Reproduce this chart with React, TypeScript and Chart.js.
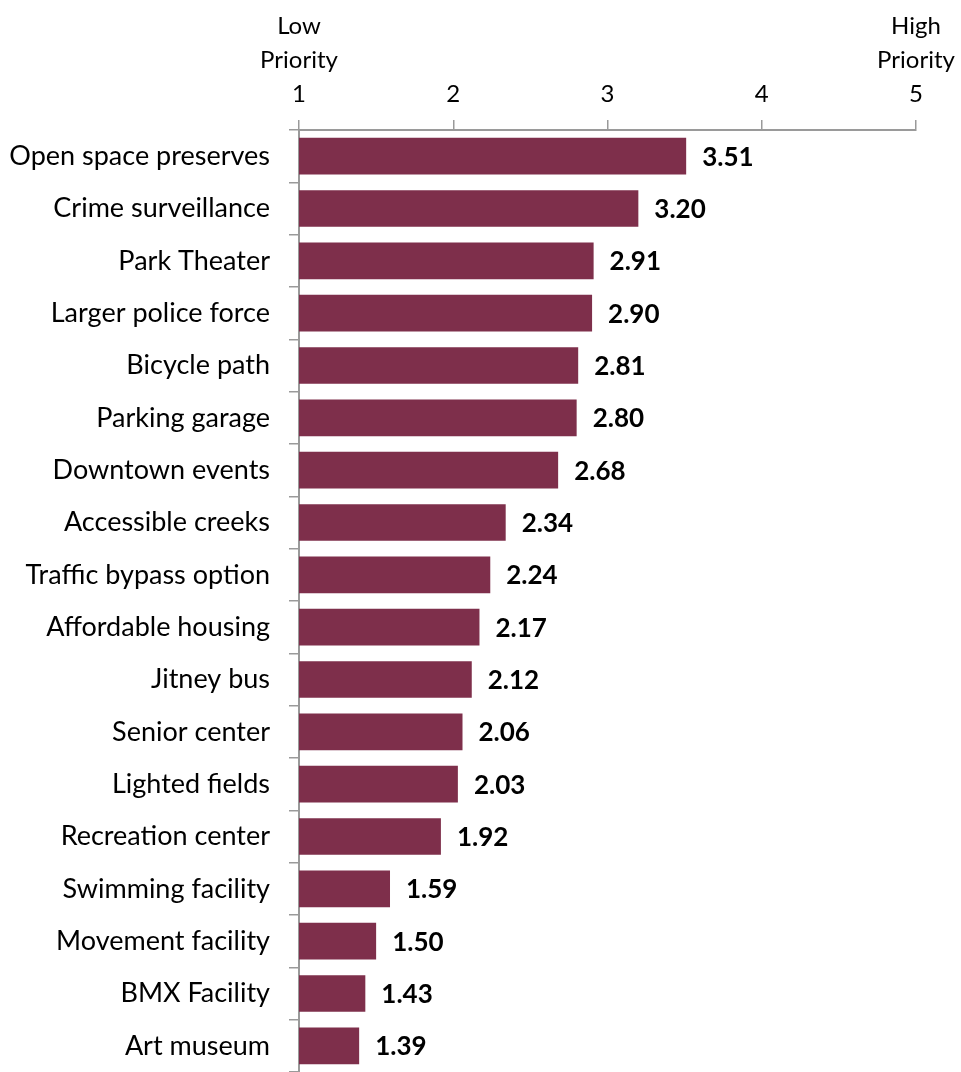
import React, { useEffect, useRef } from "react";
import { Chart, registerables } from "chart.js";

Chart.register(...registerables);

const categories = [
  "Open space preserves",
  "Crime surveillance",
  "Park Theater",
  "Larger police force",
  "Bicycle path",
  "Parking garage",
  "Downtown events",
  "Accessible creeks",
  "Traffic bypass option",
  "Affordable housing",
  "Jitney bus",
  "Senior center",
  "Lighted fields",
  "Recreation center",
  "Swimming facility",
  "Movement facility",
  "BMX Facility",
  "Art museum",
];

const values = [3.51, 3.2, 2.91, 2.9, 2.81, 2.8, 2.68, 2.34, 2.24, 2.17, 2.12, 2.06, 2.03, 1.92, 1.59, 1.5, 1.43, 1.39];

const scaleMin = 1;
const scaleMax = 5;
const lowLabel = ["Low", "Priority"];
const highLabel = ["High", "Priority"];

const FONT = "Lato";
const BAR_COLOR = "#7E2F4B";
const AXIS_COLOR = "#9A9A9A";

const valueLabelPlugin = {
  id: "valueLabels",
  afterDatasetsDraw(chart: any) {
    const ctx = chart.ctx;
    const meta = chart.getDatasetMeta(0);
    ctx.save();
    ctx.font = `bold 26px ${FONT}`;
    ctx.fillStyle = "#000";
    ctx.textAlign = "left";
    ctx.textBaseline = "middle";
    meta.data.forEach((bar: any, i: number) => {
      ctx.fillText(values[i].toFixed(2), bar.x + 16, bar.y + 1);
    });
    ctx.restore();
  },
};

export default function App() {
  const ref = useRef<HTMLCanvasElement>(null);

  useEffect(() => {
    if (!ref.current) return;
    const chart = new Chart(ref.current, {
      type: "bar",
      data: {
        labels: categories,
        datasets: [
          {
            data: values,
            backgroundColor: BAR_COLOR,
            borderWidth: 0,
            barPercentage: 0.7,
            categoryPercentage: 1,
          },
        ],
      },
      options: {
        indexAxis: "y",
        responsive: false,
        animation: false,
        devicePixelRatio: 1,
        layout: { padding: { left: 0, right: 45, top: 0, bottom: 0 } },
        plugins: {
          legend: { display: false },
          tooltip: { enabled: false },
        },
        scales: {
          x: {
            position: "top",
            min: scaleMin,
            max: scaleMax,
            ticks: {
              stepSize: 1,
              padding: 9,
              color: "#000",
              font: { family: FONT, size: 24, lineHeight: 1.42 },
              maxRotation: 0,
              callback: (v: any) => {
                const n = Number(v);
                if (n === scaleMin) return [...lowLabel, String(n)];
                if (n === scaleMax) return [...highLabel, String(n)];
                return ["", "", String(n)];
              },
            },
            grid: {
              drawOnChartArea: false,
              drawTicks: true,
              tickLength: 10,
              color: AXIS_COLOR,
              lineWidth: 1.5,
            },
            border: { display: true, color: AXIS_COLOR, width: 2 },
            afterFit: (s: any) => {
              s.height = 130;
              s.paddingLeft = 0;
              s.paddingRight = 40;
            },
          },
          y: {
            ticks: {
              padding: 19,
              color: "#000",
              font: { family: FONT, size: 27 },
              autoSkip: false,
            },
            grid: {
              drawOnChartArea: false,
              drawTicks: true,
              tickLength: 10,
              color: AXIS_COLOR,
              lineWidth: 1.5,
              offset: true,
            },
            border: { display: true, color: AXIS_COLOR, width: 2 },
            afterFit: (s: any) => {
              s.width = 299;
              s.paddingTop = 0;
              s.paddingBottom = 0;
            },
          },
        },
      },
      plugins: [valueLabelPlugin],
    } as any);
    return () => chart.destroy();
  }, []);

  return (
    <div style={{ position: "absolute", left: 0, top: 0, width: 961, height: 1072, background: "#fff" }}>
      <canvas ref={ref} width={961} height={1072} style={{ display: "block" }} />
    </div>
  );
}
